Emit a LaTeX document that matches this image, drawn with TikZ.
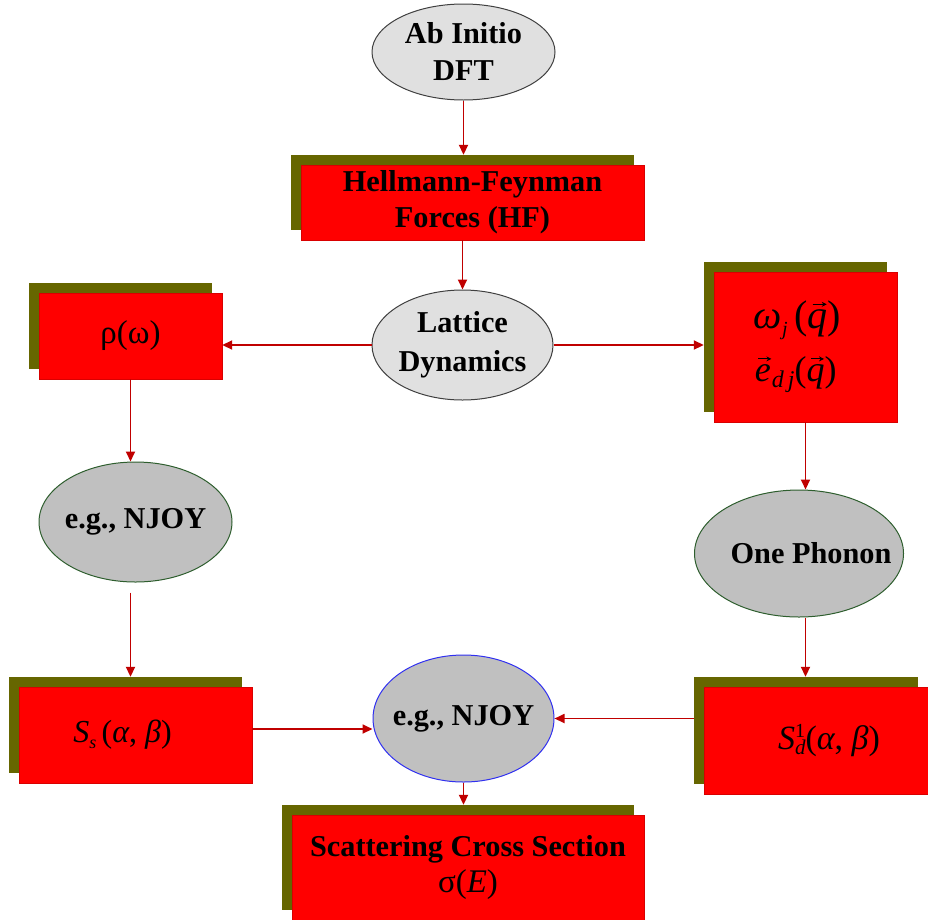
\documentclass[tikz,border=0pt]{standalone}
\usepackage{fontspec}
\setmainfont{Liberation Serif}
\usetikzlibrary{shadows,arrows.meta,shapes.geometric,calc}
\definecolor{boxred}{HTML}{FF0000}
\definecolor{olivesh}{HTML}{666600}
\definecolor{arrred}{HTML}{C00000}
\definecolor{lightell}{HTML}{E0E0E0}
\definecolor{midell}{HTML}{C0C0C0}
\definecolor{greenline}{HTML}{2E5E2E}
\definecolor{blueline}{HTML}{3030F0}
\definecolor{greyline}{HTML}{404040}
% vector: small drawn arrow stacked above an italic letter (baseline = letter baseline)
\newcommand{\vecit}[2]{\vbox{\offinterlineskip\halign{\hfil##\hfil\cr
  \hspace*{4pt}\tikz[x=1pt,y=1pt]\draw[black,fill=black,line width=0.9pt,-{Stealth[length=5pt,width=5pt]}] (0,0)--(#2,0);\cr
  \noalign{\kern3pt}\itshape #1\cr}}}
% superscript stacked over subscript
\newcommand{\supsubit}[3]{\raisebox{-#3}{\vbox{\offinterlineskip\halign{##\hfil\cr
  #1\cr\noalign{\kern3pt}#2\cr}}}}
\begin{document}
\begin{tikzpicture}[x=1pt,y=-1pt,
  redbox/.style={draw=red!85!black, line width=0.4pt, fill=boxred, inner sep=0pt,
     align=center, font=\fontsize{30.3}{36}\selectfont\bfseries,
     general shadow={fill=olivesh, shadow xshift=-10pt, shadow yshift=10.5pt}},
  ellbase/.style={ellipse, inner sep=-30pt, line width=1pt, align=center,
     font=\fontsize{30.3}{37}\selectfont\bfseries},
  ellone/.style={ellbase, fill=lightell, draw=greyline},
  elltwo/.style={ellbase, fill=midell},
  conn/.style={draw=arrred, line width=1.8pt, -{Triangle[length=10pt,width=9pt]}}
]
\useasboundingbox (0,0) rectangle (928,919);

\node[ellone, minimum width=183pt, minimum height=96pt] (abinit) at (463.5,52) {Ab Initio\\DFT};
\node[redbox, minimum width=343pt, minimum height=75pt] (hf) at (472.5,202.5) {Hellmann-Feynman\\Forces (HF)};
\node[ellone, minimum width=181pt, minimum height=110pt, font=\fontsize{30.3}{39}\selectfont\bfseries] (lattice) at (462.5,345) {Lattice\\Dynamics};
\node[redbox, minimum width=183pt, minimum height=86pt, font=\fontsize{33}{35}\selectfont] (rho) at (130.5,336) {ρ(ω)};
\node[redbox, minimum width=183pt, minimum height=150pt, align=left, font=\mdseries] (omega) at (805.5,347)
  {{\fontsize{40}{40}\selectfont\textit{ω}\raisebox{-0.35ex}{\fontsize{20}{20}\selectfont\textit{j}}\,(\vecit{q}{14})\hspace*{16pt}}\\[16pt]
   {\fontsize{36}{36}\selectfont\vecit{e}{13}\raisebox{-0.4ex}{\fontsize{24}{24}\selectfont\textit{d\,j}}(\vecit{q}{13})\hspace*{16pt}}};
\node[elltwo, draw=greenline, minimum width=193pt, minimum height=120pt] (njoyL) at (135.5,522) {e.g., NJOY};
\node[elltwo, draw=greenline, minimum width=209pt, minimum height=127pt] (phonon) at (799,553.5) {\hspace*{24pt}One Phonon};
\node[redbox, minimum width=233pt, minimum height=96pt, font=\fontsize{32}{35}\selectfont] (ss) at (135.5,735)
  {\textit{S}\raisebox{-0.35ex}{\fontsize{18}{18}\selectfont\textit{s}}\,(\textit{α}, \textit{β})\hspace*{26pt}};
\node[elltwo, draw=blueline, minimum width=181pt, minimum height=127pt] (njoyC) at (463.5,718.5) {e.g., NJOY};
\node[redbox, minimum width=224pt, minimum height=107pt, font=\fontsize{34}{36}\selectfont] (sd) at (816,740.5)
  {\hspace*{26pt}\textit{S}\supsubit{\fontsize{20}{20}\selectfont 1}{\fontsize{21}{21}\selectfont\itshape d}{5pt}(\textit{α}, \textit{β})};
\node[redbox, minimum width=352pt, minimum height=105pt] (scs) at (468,867.5)
  {Scattering Cross Section\\{\mdseries\fontsize{33}{36}\selectfont σ(\textit{E})}};

\draw[conn] (abinit.south) -- ($(abinit.south |- hf.north)+(0,-10)$);
\draw[conn] (lattice.north |- hf.south) -- (lattice.north);
\draw[conn] (lattice.west) -- (lattice.west -| rho.east);
\draw[conn] (lattice.east) -- ($(lattice.east -| omega.west)+(-10,0)$);
\draw[conn] (rho.south) -- (rho.south |- njoyL.north);
\draw[conn] ($(rho.south |- njoyL.south)+(0,10)$) -- ($(rho.south |- ss.north)+(0,-10)$);
\coordinate (ssout) at ($(ss.east)+(0,-6)$);
\draw[conn] (ssout) -- (ssout -| njoyC.west);
\draw[conn] ($(sd.west |- njoyC.east)+(-10,0)$) -- (njoyC.east);
\draw[conn] (omega.south) -- (omega.south |- phonon.north);
\draw[conn] (omega.south |- phonon.south) -- ($(omega.south |- sd.north)+(0,-10)$);
\draw[conn] (njoyC.south) -- ($(njoyC.south |- scs.north)+(0,-10)$);
\end{tikzpicture}
\end{document}
